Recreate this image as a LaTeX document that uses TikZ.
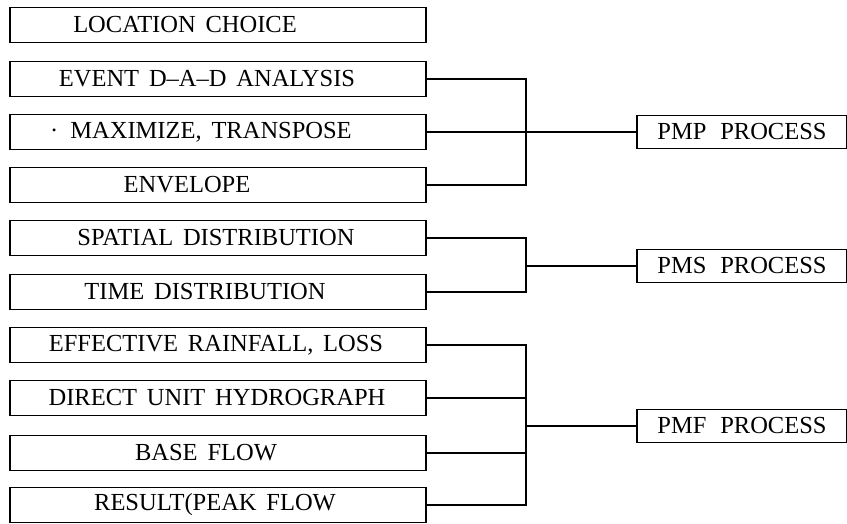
\documentclass[tikz,border=0pt]{standalone}
\usepackage{fontspec}
\setmainfont{Liberation Serif}
\newcommand\mylblfont{\fontsize{24.5}{28}\selectfont\spaceskip=9.8pt plus 2pt minus 1pt\relax}
\begin{document}
\begin{tikzpicture}[x=1pt,y=-1pt,
  box/.style={draw,line width=1.2pt,minimum width=416pt,minimum height=35pt,inner sep=0pt},
  pbox/.style={draw,line width=1.2pt,minimum width=210pt,minimum height=33pt,inner sep=0pt},
  lbl/.style={font=\mylblfont,inner sep=0pt,anchor=center},
  conn/.style={line width=1.2pt}]
\useasboundingbox (0,0) rectangle (847,524);
% left boxes
\node[box] (b1) at (218,25) {};
\node[box] (b2) at (218,79) {};
\node[box] (b3) at (218,132) {};
\node[box] (b4) at (218,185) {};
\node[box] (b5) at (218,238) {};
\node[box] (b6) at (218,292) {};
\node[box] (b7) at (218,345) {};
\node[box] (b8) at (218,398) {};
\node[box] (b9) at (218,453) {};
\node[box] (b10) at (218,505) {};
\node[lbl] at (185,25) {LOCATION CHOICE};
\node[lbl] at (207,79) {EVENT D--A--D ANALYSIS};
\node[lbl] at (201,132) {\textperiodcentered\hspace{12pt}MAXIMIZE, TRANSPOSE};
\node[lbl] at (187,185) {ENVELOPE};
\node[lbl] at (216,238) {SPATIAL DISTRIBUTION};
\node[lbl] at (205,292) {TIME DISTRIBUTION};
\node[lbl] at (216,345) {EFFECTIVE RAINFALL, LOSS};
\node[lbl] at (217,398) {DIRECT UNIT HYDROGRAPH};
\node[lbl] at (206,453) {BASE FLOW};
\node[lbl] at (215,505) {RESULT(PEAK FLOW};
% right boxes
\node[pbox] (p1) at (742,132) {};
\node[pbox] (p2) at (742,266) {};
\node[pbox] (p3) at (742,426) {};
\node[lbl] at (742,132) {PMP\hspace{4pt} PROCESS};
\node[lbl] at (742,266) {PMS\hspace{4pt} PROCESS};
\node[lbl] at (742,426) {PMF\hspace{4pt} PROCESS};
\coordinate (jx) at (526,0);
% PMP bracket
\draw[conn] (b2.east) -- (b2.east -| jx) -- (b4.east -| jx) -- (b4.east);
\draw[conn] (b3.east) -- (p1.west);
% PMS bracket
\draw[conn] (b5.east) -- (b5.east -| jx) -- (b6.east -| jx) -- (b6.east);
\draw[conn] (p2.west -| jx) -- (p2.west);
% PMF bracket
\draw[conn] (b7.east) -- (b7.east -| jx) -- (b10.east -| jx) -- (b10.east);
\draw[conn] (b8.east) -- (b8.east -| jx);
\draw[conn] (b9.east) -- (b9.east -| jx);
\draw[conn] (p3.west -| jx) -- (p3.west);
\end{tikzpicture}
\end{document}
